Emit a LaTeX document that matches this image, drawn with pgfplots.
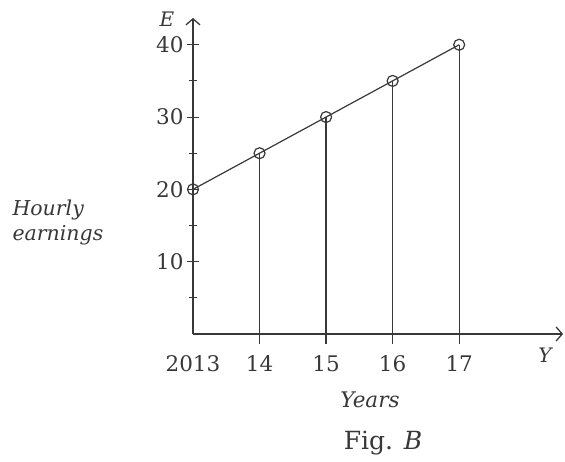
\documentclass[border=0pt]{standalone}
\usepackage{pgfplots}
\pgfplotsset{compat=1.18}
\usepackage{fontspec}
\setmainfont{DejaVu Serif}
\usetikzlibrary{arrows.meta}
\definecolor{ink}{gray}{0.22}
\begin{document}
\begin{tikzpicture}[x=1pt,y=1pt]
\useasboundingbox (-193,-128) rectangle (372,334);
\begin{axis}[
  at={(0,0)}, anchor=south west,
  scale only axis, width=370pt, height=316pt,
  xmin=2013, xmax=2018.56, ymin=0, ymax=43.7,
  axis lines=left,
  axis line style={draw=ink, line width=1.3pt, -{Straight Barb[length=6pt,width=14pt,line width=1.3pt]}},
  xtick={2013,2014,2015,2016,2017}, xticklabels={2013,14,15,16,17},
  xtick style={draw=none},
  xticklabel style={yshift=-12pt},
  ytick={10,20,30,40}, minor ytick={5,15,25,35},
  tick align=center, major tick length=12pt, minor tick length=9pt,
  tick style={draw=ink, line width=1.1pt},
  clip=false,
  ticklabel style={font=\fontsize{21.5}{24}\selectfont, text=ink},
  /pgf/number format/assume math mode=true,
  /pgf/number format/1000 sep={},
]
\addplot[draw=ink, line width=1.2pt, unbounded coords=jump] coordinates {
  (2014,-1.4) (2014,25) (2014,nan)
  (2015,-1.4) (2015,30) (2015,nan)
  (2016,-1.4) (2016,35) (2016,nan)
  (2017,-1.4) (2017,40)
};
\addplot[draw=ink, line width=1.2pt, mark=o, mark size=5.5pt, mark options={line width=1.2pt, fill=none}] coordinates {
  (2013,20) (2014,25) (2015,30) (2016,35) (2017,40)
};
\end{axis}
\node[text=ink, font=\fontsize{20}{23}\selectfont\itshape] at (-26,315) {E};
\node[text=ink, font=\fontsize{20}{23}\selectfont\itshape] at (352,-21) {Y};
\node[text=ink, font=\fontsize{21.5}{24}\selectfont\itshape] at (177,-66) {Years};
\node[text=ink, font=\fontsize{25}{28}\selectfont] at (190,-109) {Fig. \textit{B}};
\node[text=ink, font=\fontsize{20.5}{25}\selectfont\itshape, align=left, anchor=west] at (-184,112) {Hourly\\earnings};
\end{tikzpicture}
\end{document}
